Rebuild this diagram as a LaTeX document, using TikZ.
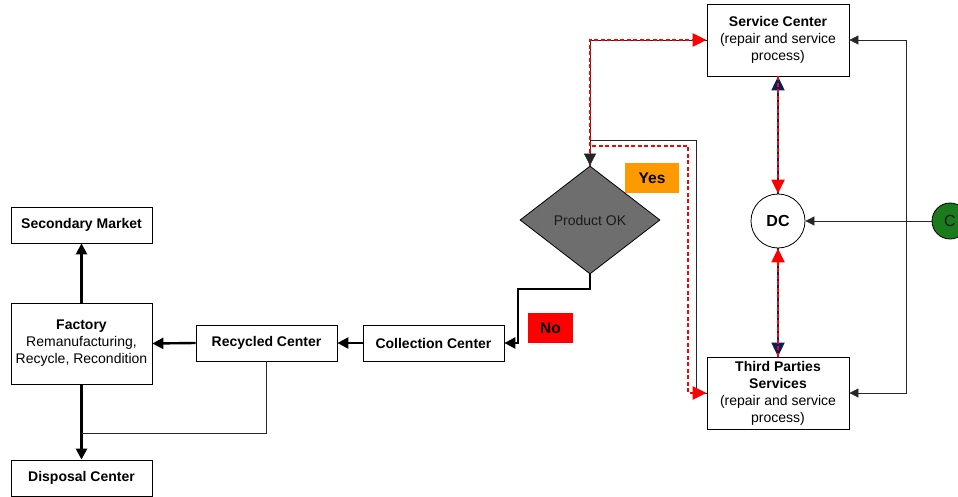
\documentclass[tikz,border=0pt]{standalone}
\usepackage{fontspec}
\setmainfont{Liberation Sans}
\usetikzlibrary{arrows.meta,shapes.geometric}
\definecolor{myorange}{HTML}{FF9900}
\definecolor{myred}{HTML}{FF0000}
\definecolor{mygreen}{HTML}{1B7A1B}
\definecolor{mynavy}{HTML}{0A1F5C}
\definecolor{mygray}{HTML}{6E6E6E}
\definecolor{mytext}{HTML}{1A1A1A}
\tikzset{
  box/.style={draw=black, line width=0.8pt, fill=white, align=center, inner sep=0pt,
    font=\fontsize{14}{17}\selectfont},
  thickline/.style={line width=2.4pt, -{Triangle[length=11pt,width=11pt]}},
  thinline/.style={line width=0.8pt, draw=black!85},
  thinarrow/.style={thinline, -{Triangle[length=9pt,width=9pt]}},
  bigarrow/.style={thinline, -{Triangle[length=12pt,width=12pt]}},
  reddash/.style={draw=myred, line width=2.2pt, dash pattern=on 4pt off 2.5pt},
  redtip/.style={-{Triangle[length=14pt,width=13pt,fill=myred,color=myred]}},
  navyline/.style={draw=mynavy, line width=2pt},
  navytip/.style={-{Triangle[length=14pt,width=13pt,fill=mynavy,color=mynavy]}},
  label/.style={inner sep=0pt, font=\fontsize{15.5}{18}\selectfont\bfseries},
}
\begin{document}
\begin{tikzpicture}[x=1pt,y=-1pt]
\useasboundingbox (0,0) rectangle (958,497);

% nodes
\node[box, minimum width=142pt, minimum height=72pt] (sc) at (778,40)
  {\textbf{Service Center}\\(repair and service\\process)};
\node[box, minimum width=142pt, minimum height=72pt] (tp) at (778,393)
  {\textbf{Third Parties}\\\textbf{Services}\\(repair and service\\process)};
\node[draw=black, line width=0.8pt, fill=white, circle, minimum size=54pt, inner sep=0pt,
  font=\fontsize{16}{18}\selectfont\bfseries] (dc) at (778,221) {DC};
\node[draw=black, line width=0.8pt, fill=mygreen, circle, minimum size=36pt, inner sep=0pt,
  font=\fontsize{16}{18}\selectfont, text=mytext] (cc) at (950,221) {C};
\node[draw=black, line width=0.8pt, fill=mygray, diamond, minimum width=140pt, minimum height=108pt,
  inner sep=0pt, font=\fontsize{14}{17}\selectfont, text=mytext] (dia) at (590,220) {Product OK};
\node[label, fill=myorange, minimum width=54pt, minimum height=30pt] (yes) at (652,178) {Yes};
\node[label, fill=myred, minimum width=45pt, minimum height=30pt] (no) at (550.5,328) {No};
\node[box, minimum width=141pt, minimum height=36pt] (col) at (433.5,343) {\textbf{Collection Center}};
\node[box, minimum width=141pt, minimum height=36pt] (rec) at (266.5,343) {\textbf{Recycled Center}};
\node[box, minimum width=141pt, minimum height=81pt] (fac) at (81.5,343.5)
  {\textbf{Factory}\\Remanufacturing,\\Recycle, Recondition};
\node[box, minimum width=141pt, minimum height=36pt] (sec) at (81.5,225) {\textbf{Secondary Market}};
\node[box, minimum width=141pt, minimum height=36pt] (disp) at (81.5,478) {\textbf{Disposal Center}};

% helper coordinates
\coordinate (t1) at (590,40);
\coordinate (t2) at (590,140);
\coordinate (t3) at (696,140);
\coordinate (t4) at (592,146);
\coordinate (t5) at (688,146);
\coordinate (t6) at (590,153);
\coordinate (n1) at (518,289);
\coordinate (j) at (81.5,433);
\coordinate (rv) at (906,221);

% left part, thick arrows
\draw[thickline] (fac.north) -- (sec.south);
\draw[thickline] (fac.south) -- (disp.north);
\draw[thickline] (rec.west) -- (fac.east);
\draw[thickline] (col.west) -- (rec.east);
\draw[thickline] (dia.south) |- (n1) |- (col.east);
\draw[thinline] (rec.south) |- (j);

% right part, thin black
\draw[thinarrow] (cc.west) -- (dc.east);
\draw[thinarrow] (rv) |- (sc.east);
\draw[thinarrow] (rv) |- (tp.east);
\draw[thinline] (sc.west) -- (t1) -- (dia.north);
\draw[thinline] (t2) -- (t3) |- (tp.west);

% red dashed paths
\draw[reddash, redtip] (dia.north) -- (t1) -- (sc.west);
\draw[reddash, redtip] (t4) -- (t5) |- (tp.west);
% black arrowhead into the diamond, drawn on top
\draw[bigarrow] (t6) -- (dia.north);

% service center <-> DC <-> third parties
\draw[navyline, navytip] (dc.north) -- (sc.south);
\draw[reddash, redtip] (sc.south) -- (dc.north);
\draw[navyline, navytip] (dc.south) -- (tp.north);
\draw[reddash, redtip] (tp.north) -- (dc.south);
\end{tikzpicture}
\end{document}
